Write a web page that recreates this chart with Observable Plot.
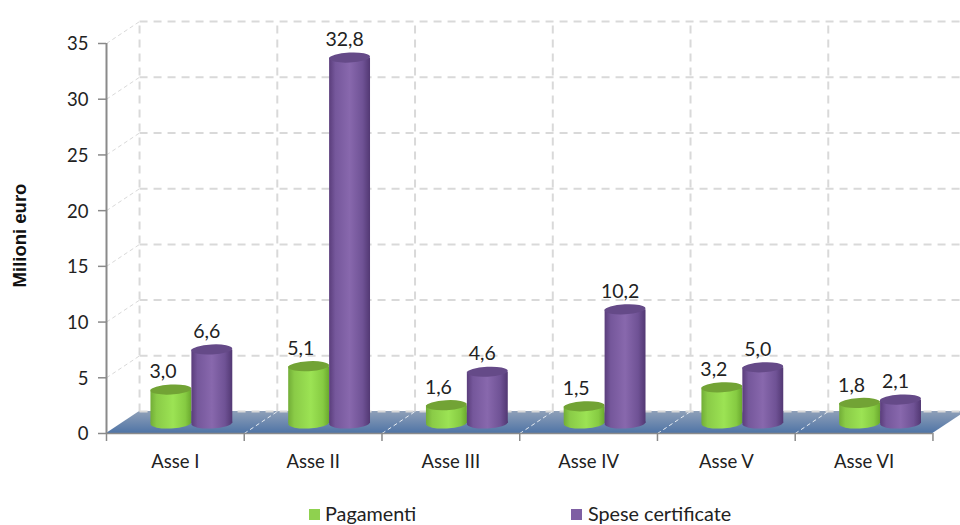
<!DOCTYPE html>
<html lang="it">
<head>
<meta charset="utf-8">
<script src="https://cdn.jsdelivr.net/npm/d3@7"></script>
<script src="https://cdn.jsdelivr.net/npm/@observablehq/plot@0.6"></script>
<style>
  html, body { margin: 0; padding: 0; background: #fff; overflow: hidden; }
  #chart { width: 960px; height: 500px; }
  #chart svg { display: block; }
  #legend { position: relative; width: 960px; height: 25px; font: 19.8px Lato, sans-serif; color: #222; overflow: hidden; }
  #legend span { position: absolute; top: 2px; white-space: nowrap; line-height: 22px; }
  #legend i { position: absolute; top: 9px; width: 11px; height: 11px; }
</style>
</head>
<body>
<div id="chart"></div>
<div id="legend">
  <i style="left:309px;background:#8fd14f"></i><span style="left:325px">Pagamenti</span>
  <i style="left:571px;background:#7e5fa3"></i><span style="left:588px">Spese certificate</span>
</div>
<script>
const categories = ["Asse I", "Asse II", "Asse III", "Asse IV", "Asse V", "Asse VI"];
const pagamenti = [3.0, 5.1, 1.6, 1.5, 3.2, 1.8];
const speseCertificate = [6.6, 32.8, 4.6, 10.2, 5.0, 2.1];
const yTicks = [0, 5, 10, 15, 20, 25, 30, 35];

// Depth of the pseudo-3D box, in data units of each axis.
const depthX = 0.24;
const depthY = 1.97;
const barWidth = 0.297;
const font = "Lato, sans-serif";
const gridColor = "#d9d9d9";
const axisColor = "#8a8a8a";

const comma = (v) => v.toFixed(1).replace(".", ",");
const rows = (values, offset) => values.map((v, i) => ({
  v, x1: i + 0.5 + offset, x2: i + 0.5 + offset + barWidth, label: comma(v)
}));
const green = rows(pagamenti, -barWidth);
const purple = rows(speseCertificate, 0);

// Gradients shared by the cylinders and the floor.
function gradients() {
  const defs = d3.create("svg:defs");
  const linear = (id, stops, vertical) => {
    const g = defs.append("linearGradient").attr("id", id)
      .attr("x1", 0).attr("y1", 0).attr("x2", vertical ? 0 : 1).attr("y2", vertical ? 1 : 0);
    stops.forEach(([o, c]) => g.append("stop").attr("offset", o).attr("stop-color", c));
  };
  linear("bodyGreen", [[0, "#72ad37"], [0.15, "#8acb47"], [0.55, "#9ce354"], [0.85, "#86cb42"], [1, "#6aa82e"]]);
  linear("bodyPurple", [[0, "#5a3d7b"], [0.15, "#75579b"], [0.5, "#8868ad"], [0.82, "#6f5295"], [1, "#523873"]]);
  linear("floor", [[0, "#8fa0b8"], [1, "#4f74a6"]], true);
  return defs.node();
}

// Flatten a rect into a slightly tilted ellipse seen from above.
const tilted = (index, scales, values, dims, ctx, next) => {
  const g = next(index, scales, values, dims, ctx);
  d3.select(g).selectAll("rect").each(function () {
    const x = +this.getAttribute("x") + this.getAttribute("width") / 2;
    const y = +this.getAttribute("y") + this.getAttribute("height") / 2;
    this.setAttribute("rx", this.getAttribute("width") / 2);
    this.setAttribute("ry", this.getAttribute("height") / 2);
    this.setAttribute("transform", `rotate(-3 ${x} ${y})`);
  });
  return g;
};

function cylinder(data, body, top) {
  const place = {x1: "x1", x2: "x2", dx: 16.5, dy: -10};
  return [
    Plot.rect(data, {...place, y1: 0, y2: 0, insetTop: -5.5, insetBottom: -5.5, fill: body, render: tilted}),
    Plot.rect(data, {...place, y1: 0, y2: "v", fill: body}),
    Plot.rect(data, {...place, y1: "v", y2: "v", insetTop: -5, insetBottom: -5, fill: top, render: tilted})
  ];
}

const walls = yTicks.filter((v) => v > 0);
const columns = d3.range(0, 7);

const chart = Plot.plot({
  width: 960,
  height: 500,
  marginLeft: 106,
  marginRight: 0,
  marginTop: 43,
  marginBottom: 67,
  style: {background: "#fff", fontFamily: font, overflow: "hidden"},
  x: {domain: [0, 6.2], axis: null},
  y: {domain: [0, 35], axis: null},
  marks: [
    gradients,
    // Floor of the box
    Plot.area([{x1: 0, x2: 6, y: 0}, {x1: depthX, x2: 6 + depthX, y: depthY}], {
      x1: "x1", x2: "x2", y1: "y", y2: "y", fill: "url(#floor)"
    }),
    // Back wall and side wall gridlines
    Plot.link(yTicks, {
      x1: depthX, x2: 6 + depthX, y1: (v) => v + depthY, y2: (v) => v + depthY,
      stroke: gridColor, strokeWidth: 2, strokeDasharray: "8,6"
    }),
    Plot.link(columns, {
      x1: (i) => i + depthX, x2: (i) => i + depthX, y1: depthY, y2: 35 + depthY,
      stroke: gridColor, strokeWidth: 2, strokeDasharray: "8,6"
    }),
    Plot.link(walls, {
      x1: 0, x2: depthX, y1: (v) => v, y2: (v) => v + depthY,
      stroke: gridColor, strokeWidth: 1, strokeDasharray: "4,3"
    }),
    // Dividers across the floor
    Plot.link(columns.slice(1, 6), {
      x1: (i) => i, x2: (i) => i + depthX, y1: 0, y2: depthY,
      stroke: "#e8edf3", strokeWidth: 1, strokeDasharray: "4,3"
    }),
    // Cylinders
    ...cylinder(green, "url(#bodyGreen)", "#72a335"),
    ...cylinder(purple, "url(#bodyPurple)", "#654a88"),
    // Value labels
    Plot.text(green, {
      x: (d) => (d.x1 + d.x2) / 2, y: "v", text: "label", dx: 8, dy: -28,
      fontSize: 19.5, fill: "#222"
    }),
    Plot.text(purple, {
      x: (d) => (d.x1 + d.x2) / 2, y: "v", text: "label", dx: 11, dy: -28,
      fontSize: 19.5, fill: "#222"
    }),
    // Axes
    Plot.ruleX([0], {y1: 0, y2: 35, stroke: axisColor, strokeWidth: 2}),
    Plot.ruleY([0], {x1: 0, x2: 6, stroke: axisColor, strokeWidth: 1.5}),
    Plot.axisY({
      ticks: yTicks, tickSize: 8, tickFormat: () => "", stroke: axisColor, strokeWidth: 1.5, label: null
    }),
    Plot.text(yTicks, {
      x: 0, y: (v) => v, text: String, dx: -18, dy: 1, textAnchor: "end", fontSize: 18.5, fill: "#222"
    }),
    Plot.axisX({
      ticks: columns, tickSize: 8, tickFormat: () => "", stroke: axisColor, strokeWidth: 1.5,
      label: null, anchor: "bottom"
    }),
    Plot.text(categories, {
      x: (d, i) => i + 0.5, y: 0, text: (d) => d, dy: 29, fontSize: 18.5, fill: "#222"
    }),
    Plot.text(["Milioni euro"], {
      x: 0, y: 17.5, dx: -86, dy: -3, rotate: -90,
      fontFamily: "Liberation Sans", fontWeight: "bold", fontSize: 18.5, fill: "#111"
    })
  ]
});
document.getElementById("chart").append(chart);
</script>
</body>
</html>
